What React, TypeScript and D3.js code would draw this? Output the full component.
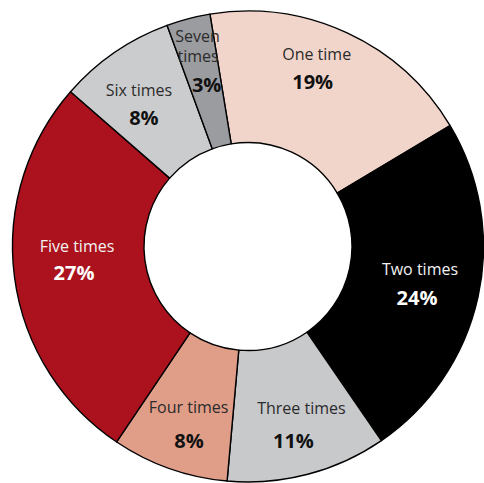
import React from "react";
import * as d3 from "d3";

// Share of respondents by number of times
const categories = ["One time", "Two times", "Three times", "Four times", "Five times", "Six times", "Seven times"];
const shares = [19, 24, 11, 8, 27, 8, 3];
const sliceColors = ["#F1D5CA", "#000000", "#C8C9CB", "#E09D88", "#AC121D", "#CBCCCE", "#9B9C9F"];
const nameColors = ["#2b2b2b", "#f2f2f2", "#2b2b2b", "#2b2b2b", "#f2f2f2", "#2b2b2b", "#2b2b2b"];
const pctColors = ["#111", "#fff", "#111", "#111", "#fff", "#111", "#111"];

// Label nudges relative to each slice's label centroid: name line(s) then percentage
const nameLines: string[][] = [["One time"], ["Two times"], ["Three times"], ["Four times"], ["Five times"], ["Six times"], ["Seven", "times"]];
const nameOffsets: [number, number][][] = [
  [[-5, -34]],
  [[1, -15]],
  [[9, -8]],
  [[-1, -4]],
  [[2.5, -23.5]],
  [[-10, -12]],
  [[-6, -41.5], [-5.5, -21.3]],
];
const pctOffsets: [number, number][] = [[-9, -6.5], [-2, 14], [1, 24.5], [-0.5, 29], [-0.5, 3.3], [-5, 15], [3, 7.7]];

const W = 484;
const H = 483;
const cx = 248;
const cy = 246.5;
const outerR = 235.5;
const innerR = 104;
const labelR = 175;
const start = (-9.3 * Math.PI) / 180;

export default function App() {
  const pie = d3
    .pie<number>()
    .sort(null)
    .value((d) => d)
    .startAngle(start)
    .endAngle(start + 2 * Math.PI);
  const arcs = pie(shares);
  const arc = d3.arc<d3.PieArcDatum<number>>().innerRadius(innerR).outerRadius(outerR);
  const labelArc = d3.arc<d3.PieArcDatum<number>>().innerRadius(labelR).outerRadius(labelR);

  return (
    <svg
      width={W}
      height={H}
      style={{ position: "absolute", left: 0, top: 0, background: "#fff" }}
      fontFamily="'Open Sans', sans-serif"
    >
      <g transform={`translate(${cx},${cy})`}>
        {arcs.map((a, i) => (
          <path key={categories[i]} d={arc(a) ?? ""} fill={sliceColors[i]} stroke="#000" strokeWidth={1.4} strokeLinejoin="round" />
        ))}
        {arcs.map((a, i) => {
          const [lx, ly] = labelArc.centroid(a);
          return (
            <g key={`lbl-${categories[i]}`}>
              {nameLines[i].map((line, j) => (
                <text
                  key={line}
                  x={lx + nameOffsets[i][j][0]}
                  y={ly + nameOffsets[i][j][1]}
                  textAnchor="middle"
                  dominantBaseline="central"
                  fontSize={16}
                  fill={nameColors[i]}
                >
                  {line}
                </text>
              ))}
              <text
                x={lx + pctOffsets[i][0]}
                y={ly + pctOffsets[i][1]}
                textAnchor="middle"
                dominantBaseline="central"
                fontSize={20}
                fontWeight="bold"
                fill={pctColors[i]}
              >
                {`${shares[i]}%`}
              </text>
            </g>
          );
        })}
      </g>
    </svg>
  );
}
